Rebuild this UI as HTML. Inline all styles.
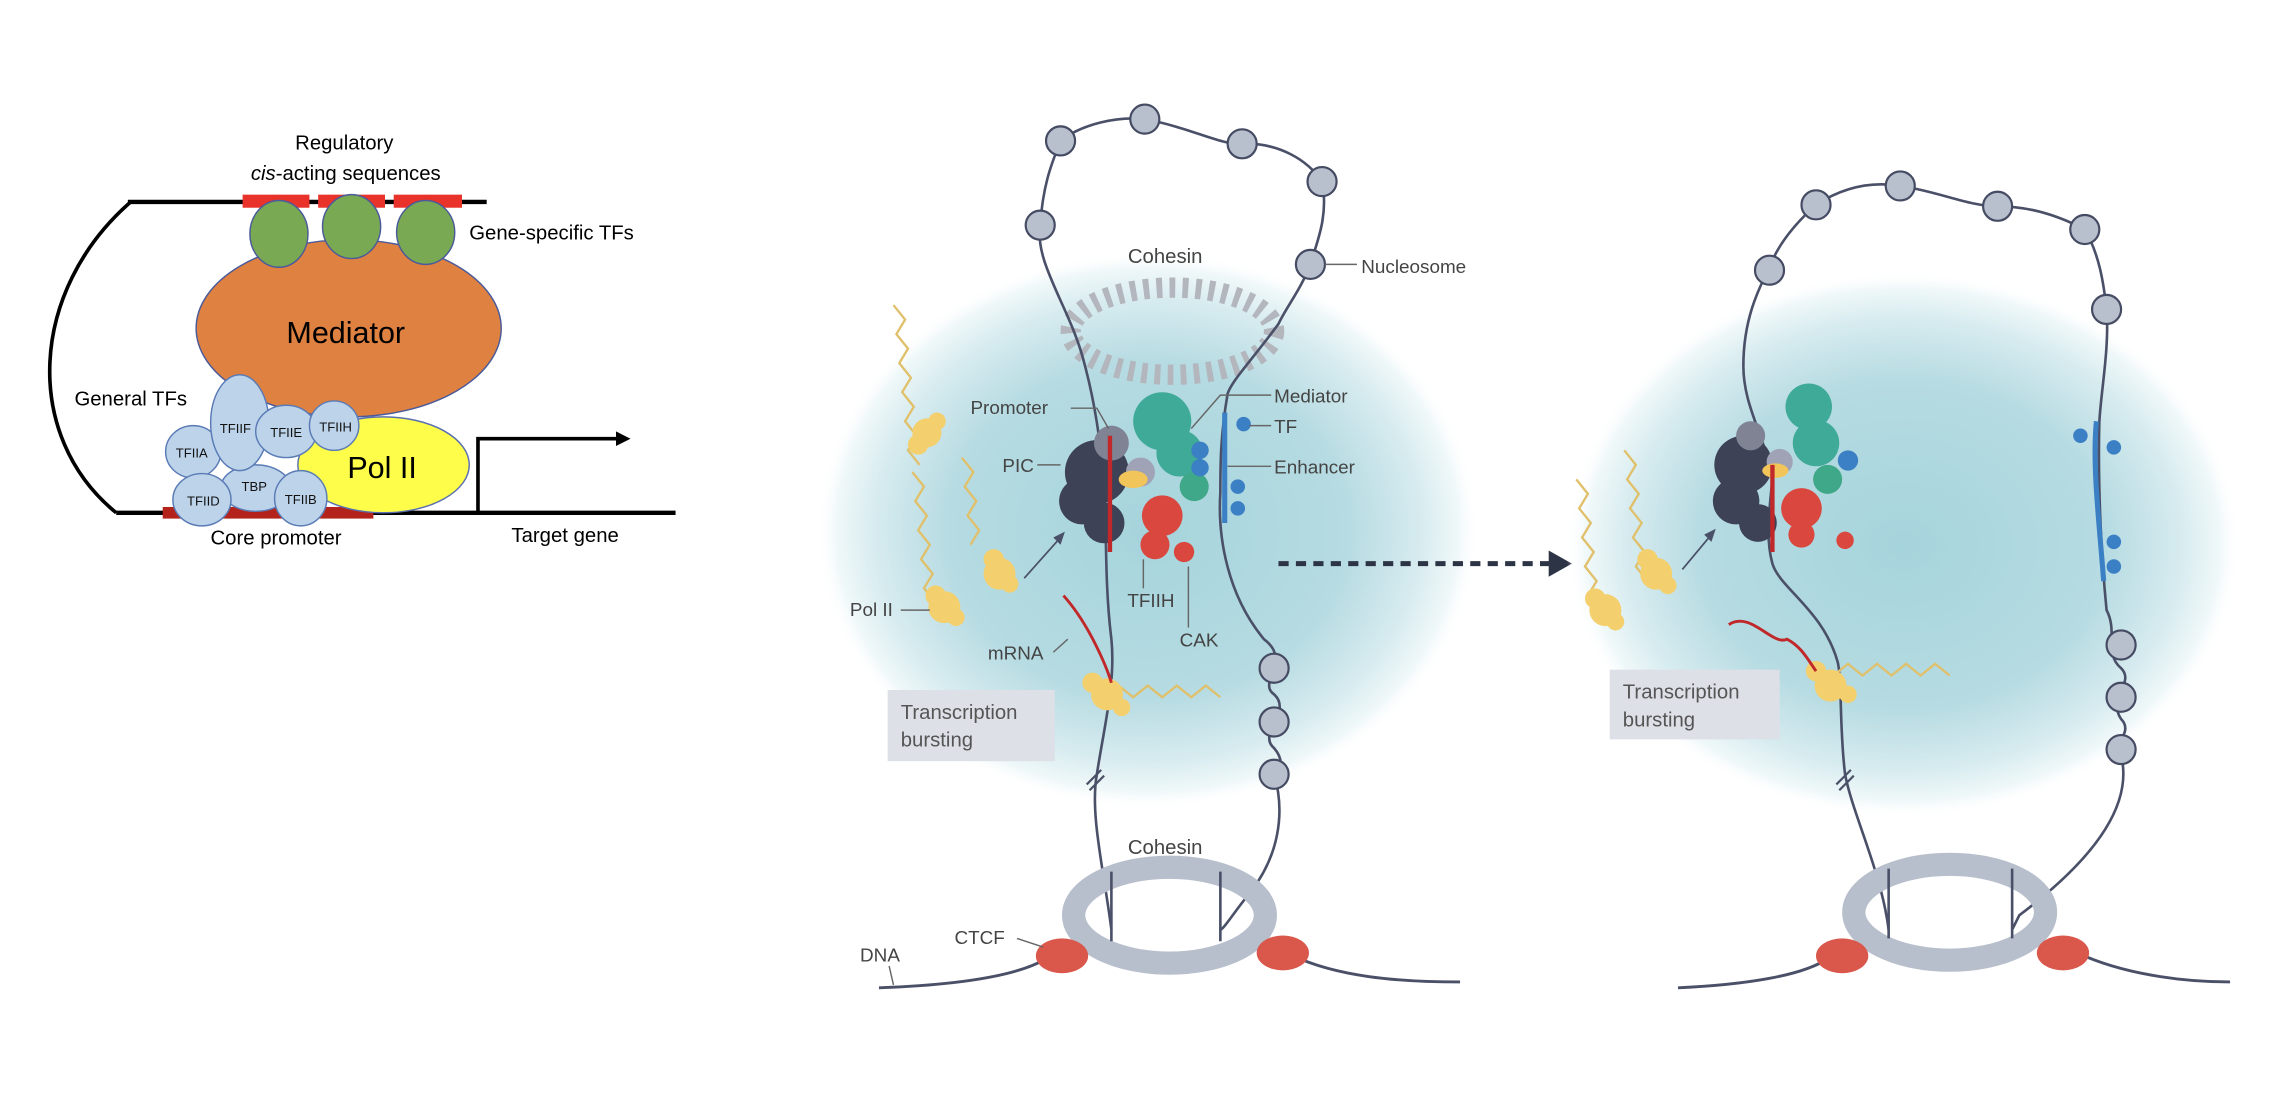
<!DOCTYPE html>
<html><head><meta charset="utf-8"><style>
html,body{margin:0;padding:0;background:#fff;}
svg{display:block;}
text{font-family:"Liberation Sans",sans-serif;}
</style></head><body>
<svg width="2278" height="1104" viewBox="0 0 1568 760" preserveAspectRatio="none" xmlns="http://www.w3.org/2000/svg">
<defs>
<radialGradient id="glow" cx="50%" cy="50%" r="50%">
<stop offset="0" stop-color="#a6d4dc"/>
<stop offset="0.6" stop-color="#b6dbe2"/>
<stop offset="0.82" stop-color="#d6ebef"/>
<stop offset="0.94" stop-color="#f0f8f9"/>
<stop offset="1" stop-color="#ffffff" stop-opacity="0"/>
</radialGradient>
</defs>
<rect width="1568" height="760" fill="#fff"/>

<!-- LEFT DIAGRAM -->
<g>
<path d="M90,139 C20,200 15,300 80,353" fill="none" stroke="#000" stroke-width="2.5"/>
<line x1="88" y1="139" x2="335" y2="139" stroke="#000" stroke-width="3"/>
<rect x="167" y="134" width="46" height="9" fill="#e8322a"/>
<rect x="219" y="134" width="46" height="9" fill="#e8322a"/>
<rect x="271" y="134" width="47" height="9" fill="#e8322a"/>
<line x1="80" y1="353" x2="465" y2="353" stroke="#000" stroke-width="3"/>
<rect x="112" y="349" width="145" height="8" fill="#b3231b"/>
<path d="M329,353 V302 H425" fill="none" stroke="#000" stroke-width="2.5"/>
<polygon points="424,297 434,302 424,307" fill="#000"/>
<ellipse cx="264" cy="320" rx="59" ry="33" fill="#fdfd4a" stroke="#5a6fb0" stroke-width="1"/>
<ellipse cx="240" cy="226" rx="105" ry="61" fill="#df8140" stroke="#4a5a9a" stroke-width="1"/>
<ellipse cx="192" cy="161" rx="20" ry="23" fill="#79a952" stroke="#4a5a9a" stroke-width="1"/>
<ellipse cx="242" cy="156" rx="20" ry="22" fill="#79a952" stroke="#4a5a9a" stroke-width="1"/>
<ellipse cx="293" cy="160" rx="20" ry="22" fill="#79a952" stroke="#4a5a9a" stroke-width="1"/>
<g fill="#bcd3ea" stroke="#5a7bb5" stroke-width="1">
<ellipse cx="176" cy="336" rx="24" ry="16"/>
<ellipse cx="133" cy="311" rx="19" ry="18"/>
<ellipse cx="139" cy="344" rx="20" ry="18"/>
<ellipse cx="165" cy="291" rx="20" ry="33"/>
<ellipse cx="197" cy="297" rx="21" ry="18"/>
<ellipse cx="230" cy="293" rx="17" ry="17"/>
<ellipse cx="207" cy="343" rx="18" ry="19"/>
</g>
<g font-size="9" fill="#111" text-anchor="middle">
<text x="162" y="298">TFIIF</text>
<text x="197" y="301">TFIIE</text>
<text x="231" y="297">TFIIH</text>
<text x="132" y="315">TFIIA</text>
<text x="140" y="348">TFIID</text>
<text x="175" y="338">TBP</text>
<text x="207" y="347">TFIIB</text>
</g>
<g font-size="14" fill="#000" text-anchor="middle">
<text x="237" y="103">Regulatory</text>
<text x="238" y="124"><tspan font-style="italic">cis</tspan>-acting sequences</text>
<text x="190" y="375">Core promoter</text>
<text x="389" y="373">Target gene</text>
<text x="90" y="279">General TFs</text>
</g>
<text x="323" y="165" font-size="14">Gene-specific TFs</text>
<text x="238" y="236" font-size="21" text-anchor="middle">Mediator</text>
<text x="263" y="329" font-size="21" text-anchor="middle">Pol II</text>
</g>

<!-- RIGHT PANEL 1 -->
<g>
<ellipse cx="790" cy="365" rx="228" ry="192" fill="url(#glow)"/>
<ellipse cx="807" cy="228" rx="70" ry="30" fill="none" stroke="#b3b6bd" stroke-width="14" stroke-dasharray="4 5"/>
<path d="M765,640 C760,600 750,560 755,533 C760,500 768,470 765,440 C760,400 762,360 760,339 C758,300 752,270 745,245 C735,210 712,180 716,155 C718,125 725,110 730,97 C745,85 770,80 788,82 C820,88 840,100 855,99 C880,98 900,110 910,125 C915,150 905,170 902,182 C895,200 885,212 880,223 C860,250 848,262 845,271 C840,300 840,320 840,339 C838,370 845,410 870,440 C890,455 865,470 877,478 C890,490 865,505 877,515 C890,530 870,540 877,533 C885,560 880,590 860,615 C848,630 842,640 840,640" fill="none" stroke="#4a5068" stroke-width="1.8"/>
<g fill="#b8bfcd" stroke="#454b62" stroke-width="1.5">
<circle cx="730" cy="97" r="10"/><circle cx="788" cy="82" r="10"/><circle cx="855" cy="99" r="10"/>
<circle cx="910" cy="125" r="10"/><circle cx="716" cy="155" r="10"/><circle cx="902" cy="182" r="10"/>
<circle cx="877" cy="460" r="10"/><circle cx="877" cy="497" r="10"/><circle cx="877" cy="533" r="10"/>
</g>
<line x1="748" y1="540" x2="758" y2="530" stroke="#4a5068" stroke-width="1.5"/>
<line x1="750" y1="544" x2="760" y2="534" stroke="#4a5068" stroke-width="1.5"/>
<ellipse cx="805" cy="630" rx="66" ry="33" fill="none" stroke="#b8bfcc" stroke-width="16"/>
<line x1="765" y1="600" x2="765" y2="648" stroke="#4a5068" stroke-width="1.8"/>
<line x1="840" y1="600" x2="840" y2="648" stroke="#4a5068" stroke-width="1.8"/>
<path d="M605,680 C660,678 700,672 720,660 M890,658 C920,672 960,676 1005,676" fill="none" stroke="#4a5068" stroke-width="2"/>
<ellipse cx="731" cy="658" rx="18" ry="12" fill="#d9574b"/>
<ellipse cx="883" cy="656" rx="18" ry="12" fill="#d9574b"/>
<g>
<circle cx="755" cy="325" r="22" fill="#3d4256"/><circle cx="745" cy="345" r="16" fill="#3d4256"/><circle cx="760" cy="360" r="14" fill="#3d4256"/>
<circle cx="765" cy="305" r="12" fill="#7f8394"/>
<circle cx="800" cy="290" r="20" fill="#3faa98"/><circle cx="812" cy="312" r="16" fill="#3faa98"/><circle cx="822" cy="335" r="10" fill="#3fa888"/>
<circle cx="785" cy="325" r="10" fill="#a0a3b5"/>
<ellipse cx="780" cy="330" rx="10" ry="6" fill="#f2c55b"/>
<circle cx="800" cy="355" r="14" fill="#d9473e"/><circle cx="795" cy="375" r="10" fill="#d9473e"/><circle cx="815" cy="380" r="7" fill="#d9473e"/>
<line x1="764" y1="300" x2="764" y2="380" stroke="#c0282a" stroke-width="3"/>
<line x1="843" y1="284" x2="843" y2="360" stroke="#3b7fc4" stroke-width="3.5"/>
<circle cx="856" cy="292" r="5" fill="#3b7fc4"/><circle cx="826" cy="310" r="6" fill="#3b7fc4"/><circle cx="826" cy="322" r="6" fill="#3b7fc4"/>
<circle cx="852" cy="335" r="5" fill="#3b7fc4"/><circle cx="852" cy="350" r="5" fill="#3b7fc4"/>
</g>
<g fill="none" stroke="#e0c06a" stroke-width="1.6">
<path d="M615,210 l8,10 -6,10 8,10 -6,10 8,10 -6,10 8,10 -6,10 8,10 -6,10 8,10"/>
<path d="M628,325 l8,10 -6,10 8,10 -6,10 8,10 -6,10 8,10 -6,10 8,10"/>
<path d="M662,315 l8,10 -6,10 8,10 -6,10 8,10 -6,10"/>
<path d="M760,480 l10,-8 10,8 10,-8 10,8 10,-8 10,8 10,-8 10,8"/>
</g>
<g fill="#f3cf6e">
<circle cx="638" cy="298" r="10"/><circle cx="632" cy="306" r="7"/><circle cx="645" cy="290" r="6"/>
<circle cx="650" cy="418" r="11"/><circle cx="644" cy="410" r="7"/><circle cx="658" cy="425" r="6"/>
<circle cx="688" cy="395" r="11"/><circle cx="684" cy="385" r="7"/><circle cx="695" cy="402" r="6"/>
<circle cx="762" cy="478" r="11"/><circle cx="752" cy="470" r="7"/><circle cx="772" cy="487" r="6"/>
</g>
<path d="M732,410 C750,430 762,460 765,470" fill="none" stroke="#c0282a" stroke-width="2"/>
<path d="M705,398 L730,370" stroke="#4a5068" stroke-width="1.2" fill="none"/>
<polygon points="733,366 725,370 730,375" fill="#4a5068"/>
<g font-size="14" fill="#444" text-anchor="middle">
<text x="802" y="181">Cohesin</text>
<text x="802" y="588">Cohesin</text>
</g>
<g font-size="13" fill="#444">
<text x="937" y="188">Nucleosome</text>
<text x="877" y="277">Mediator</text>
<text x="877" y="298">TF</text>
<text x="877" y="326">Enhancer</text>
<text x="668" y="285">Promoter</text>
<text x="690" y="325">PIC</text>
<text x="776" y="418">TFIIH</text>
<text x="812" y="445">CAK</text>
<text x="585" y="424">Pol II</text>
<text x="680" y="454">mRNA</text>
<text x="657" y="650">CTCF</text>
<text x="592" y="662">DNA</text>
</g>
<g stroke="#666" stroke-width="1" fill="none">
<path d="M912,182 H934"/><path d="M875,272 H840 L820,295"/><path d="M860,293 H875"/><path d="M845,321 H875"/>
<path d="M737,281 H755 L763,295"/><path d="M714,320 H730"/><path d="M787,385 V405"/><path d="M818,390 V432"/>
<path d="M620,420 H640"/><path d="M725,449 L735,440"/><path d="M700,646 L718,652"/><path d="M612,665 L615,678"/>
</g>
<rect x="611" y="475" width="115" height="49" fill="#dde0e7"/>
<text x="620" y="495" font-size="14" fill="#555">Transcription</text>
<text x="620" y="514" font-size="14" fill="#555">bursting</text>
<line x1="880" y1="388" x2="1068" y2="388" stroke="#2d3446" stroke-width="3.5" stroke-dasharray="7 5"/>
<polygon points="1066,379 1082,388 1066,397" fill="#2d3446"/>
</g>

<!-- RIGHT PANEL 2 -->
<g>
<ellipse cx="1310" cy="375" rx="232" ry="188" fill="url(#glow)"/>
<path d="M1300,640 C1295,600 1275,560 1270,533 C1266,500 1268,470 1265,456 C1255,420 1225,405 1220,388 C1215,370 1218,350 1220,330 C1215,300 1200,280 1200,252 C1200,220 1210,200 1218,184 C1225,165 1240,150 1250,141 C1270,128 1290,125 1308,128 C1335,132 1355,142 1375,142 C1400,142 1420,150 1435,158 C1445,175 1448,195 1450,213 C1452,240 1446,270 1445,291 C1444,330 1446,380 1450,420 C1458,435 1448,450 1460,460 C1470,470 1450,480 1460,495 C1470,505 1450,515 1460,520 C1470,560 1430,600 1390,630 L1385,640" fill="none" stroke="#4a5068" stroke-width="1.8"/>
<g fill="#b8bfcd" stroke="#454b62" stroke-width="1.5">
<circle cx="1250" cy="141" r="10"/><circle cx="1308" cy="128" r="10"/><circle cx="1375" cy="142" r="10"/>
<circle cx="1435" cy="158" r="10"/><circle cx="1218" cy="186" r="10"/><circle cx="1450" cy="213" r="10"/>
<circle cx="1460" cy="444" r="10"/><circle cx="1460" cy="480" r="10"/><circle cx="1460" cy="516" r="10"/>
</g>
<line x1="1264" y1="540" x2="1274" y2="530" stroke="#4a5068" stroke-width="1.5"/>
<line x1="1266" y1="544" x2="1276" y2="534" stroke="#4a5068" stroke-width="1.5"/>
<ellipse cx="1342" cy="628" rx="66" ry="33" fill="none" stroke="#b8bfcc" stroke-width="16"/>
<line x1="1300" y1="598" x2="1300" y2="646" stroke="#4a5068" stroke-width="1.8"/>
<line x1="1385" y1="598" x2="1385" y2="646" stroke="#4a5068" stroke-width="1.8"/>
<path d="M1155,680 C1200,678 1240,672 1258,660 M1430,656 C1460,670 1500,676 1535,676" fill="none" stroke="#4a5068" stroke-width="2"/>
<ellipse cx="1268" cy="658" rx="18" ry="12" fill="#d9574b"/>
<ellipse cx="1420" cy="656" rx="18" ry="12" fill="#d9574b"/>
<g>
<circle cx="1200" cy="320" r="20" fill="#3d4256"/><circle cx="1195" cy="345" r="16" fill="#3d4256"/><circle cx="1210" cy="360" r="13" fill="#3d4256"/>
<circle cx="1205" cy="300" r="10" fill="#7f8394"/>
<circle cx="1245" cy="280" r="16" fill="#3faa98"/><circle cx="1250" cy="305" r="16" fill="#3faa98"/><circle cx="1258" cy="330" r="10" fill="#3fa888"/>
<circle cx="1225" cy="318" r="9" fill="#a0a3b5"/>
<ellipse cx="1222" cy="324" rx="9" ry="5" fill="#f2c55b"/>
<circle cx="1240" cy="350" r="14" fill="#d9473e"/><circle cx="1240" cy="368" r="9" fill="#d9473e"/><circle cx="1270" cy="372" r="6" fill="#d9473e"/>
<line x1="1220" y1="320" x2="1220" y2="380" stroke="#c0282a" stroke-width="3"/>
<circle cx="1272" cy="317" r="7" fill="#3b7fc4"/>
<path d="M1443,290 C1440,320 1445,360 1448,400" stroke="#3b7fc4" stroke-width="3.5" fill="none"/>
<circle cx="1432" cy="300" r="5" fill="#3b7fc4"/><circle cx="1455" cy="308" r="5" fill="#3b7fc4"/>
<circle cx="1455" cy="373" r="5" fill="#3b7fc4"/><circle cx="1455" cy="390" r="5" fill="#3b7fc4"/>
</g>
<g fill="none" stroke="#e0c06a" stroke-width="1.6">
<path d="M1118,310 l8,10 -6,10 8,10 -6,10 8,10 -6,10 8,10 -6,10 8,10"/>
<path d="M1085,330 l8,10 -6,10 8,10 -6,10 8,10 -6,10 8,10 -6,10 8,10"/>
<path d="M1262,465 l10,-8 10,8 10,-8 10,8 10,-8 10,8 10,-8 10,8"/>
</g>
<g fill="#f3cf6e">
<circle cx="1140" cy="395" r="11"/><circle cx="1134" cy="385" r="7"/><circle cx="1148" cy="403" r="6"/>
<circle cx="1105" cy="420" r="11"/><circle cx="1098" cy="412" r="7"/><circle cx="1112" cy="428" r="6"/>
<circle cx="1260" cy="472" r="11"/><circle cx="1250" cy="462" r="7"/><circle cx="1272" cy="478" r="6"/>
</g>
<path d="M1190,430 C1205,420 1220,445 1230,440 C1240,445 1245,455 1250,462" fill="none" stroke="#c0282a" stroke-width="2"/>
<path d="M1158,392 L1178,368" stroke="#4a5068" stroke-width="1.2" fill="none"/>
<polygon points="1181,364 1173,368 1178,373" fill="#4a5068"/>
<rect x="1108" y="461" width="117" height="48" fill="#dde0e7"/>
<text x="1117" y="481" font-size="14" fill="#555">Transcription</text>
<text x="1117" y="500" font-size="14" fill="#555">bursting</text>
</g>
</svg>
</body></html>
